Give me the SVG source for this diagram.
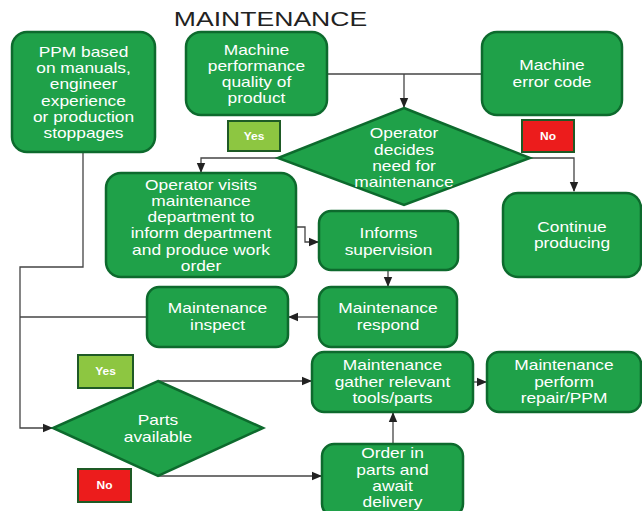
<svg xmlns="http://www.w3.org/2000/svg" width="642" height="511" viewBox="0 0 642 511">
<defs>
<marker id="ah" markerUnits="userSpaceOnUse" markerWidth="10" markerHeight="10" viewBox="0 0 10 10" refX="9" refY="5" orient="auto">
<path d="M0,0.8 L10,5 L0,9.2 Z" fill="#222"/>
</marker>
<style>
.box{fill:#1fa149;stroke:#0d6a2d;stroke-width:2.5}
.yes{fill:#8dc641;stroke:#1e5a25;stroke-width:2}
.no{fill:#ec1c1c;stroke:#1e5a25;stroke-width:2}
.t{font-family:"Liberation Sans",Arial,sans-serif;font-size:14px;fill:#fff;text-anchor:middle}
.lt{font-family:"Liberation Sans",Arial,sans-serif;font-size:10px;font-weight:bold;fill:#fff;text-anchor:middle}
.title{font-family:"Liberation Sans",Arial,sans-serif;font-size:20px;fill:#222;text-anchor:middle}
.c{fill:none;stroke:#444;stroke-width:1.3}
.ca{fill:none;stroke:#444;stroke-width:1.3;marker-end:url(#ah)}
</style>
</defs>
<rect width="642" height="511" fill="#fff"/>
<text class="title" transform="translate(270.5,0) scale(1.33,1)" x="0" y="26">MAINTENANCE</text>

<g id="connectors">
<path class="c" d="M327,74 H482"/>
<path class="ca" d="M404,74 V107"/>
<path class="ca" d="M278,158 H201 V172"/>
<path class="ca" d="M530,158 H574 V191"/>
<path class="ca" d="M296,227 H305 V242 H318"/>
<path class="ca" d="M388,270 V286"/>
<path class="ca" d="M319,317 H289"/>
<path class="c" d="M147,317 H20"/>
<path class="ca" d="M83,152 V267 H20 V428 H52"/>
<path class="ca" d="M158,381 H311"/>
<path class="ca" d="M158,476 H321"/>
<path class="ca" d="M393,444 V413"/>
<path class="ca" d="M473,382 H486"/>
</g>

<g id="ppm">
<rect class="box" x="12" y="32" width="143" height="120" rx="15"/>
<text class="t" transform="translate(83.5,0) scale(1.24,1)"><tspan x="0" y="57">PPM based</tspan><tspan x="0" y="73">on manuals,</tspan><tspan x="0" y="89.5">engineer</tspan><tspan x="0" y="106">experience</tspan><tspan x="0" y="122">or production</tspan><tspan x="0" y="138">stoppages</tspan></text>
</g>

<g id="machine-performance">
<rect class="box" x="186" y="32" width="141" height="83" rx="15"/>
<text class="t" transform="translate(256.5,0) scale(1.24,1)"><tspan x="0" y="55">Machine</tspan><tspan x="0" y="71">performance</tspan><tspan x="0" y="87">quality of</tspan><tspan x="0" y="103">product</tspan></text>
</g>

<g id="yes1">
<rect class="yes" x="228" y="121" width="52" height="30"/>
<text class="lt" transform="translate(254,0) scale(1.2,1)" x="0" y="140">Yes</text>
</g>

<g id="machine-error">
<rect class="box" x="482" y="32" width="140" height="83" rx="15"/>
<text class="t" transform="translate(552,0) scale(1.24,1)"><tspan x="0" y="70">Machine</tspan><tspan x="0" y="87">error code</tspan></text>
</g>

<g id="no1">
<rect class="no" x="522" y="120" width="52" height="32"/>
<text class="lt" transform="translate(548,0) scale(1.2,1)" x="0" y="140">No</text>
</g>

<g id="operator-decides">
<polygon class="box" points="404,108 530,158 404,205 278,158"/>
<text class="t" transform="translate(404,0) scale(1.24,1)"><tspan x="0" y="138">Operator</tspan><tspan x="0" y="155">decides</tspan><tspan x="0" y="171">need for</tspan><tspan x="0" y="187">maintenance</tspan></text>
</g>

<g id="operator-visits">
<rect class="box" x="106" y="173" width="190" height="104" rx="15"/>
<text class="t" transform="translate(201,0) scale(1.24,1)"><tspan x="0" y="190">Operator visits</tspan><tspan x="0" y="206">maintenance</tspan><tspan x="0" y="222">department to</tspan><tspan x="0" y="238">inform department</tspan><tspan x="0" y="255">and produce work</tspan><tspan x="0" y="271">order</tspan></text>
</g>

<g id="informs-supervision">
<rect class="box" x="319" y="211" width="139" height="59" rx="12"/>
<text class="t" transform="translate(388.5,0) scale(1.24,1)"><tspan x="0" y="238">Informs</tspan><tspan x="0" y="255">supervision</tspan></text>
</g>

<g id="continue-producing">
<rect class="box" x="503" y="193" width="138" height="84" rx="15"/>
<text class="t" transform="translate(572,0) scale(1.24,1)"><tspan x="0" y="232">Continue</tspan><tspan x="0" y="248">producing</tspan></text>
</g>

<g id="maintenance-respond">
<rect class="box" x="319" y="287" width="138" height="60" rx="12"/>
<text class="t" transform="translate(388,0) scale(1.24,1)"><tspan x="0" y="313">Maintenance</tspan><tspan x="0" y="330">respond</tspan></text>
</g>

<g id="maintenance-inspect">
<rect class="box" x="147" y="287" width="141" height="60" rx="12"/>
<text class="t" transform="translate(217.5,0) scale(1.24,1)"><tspan x="0" y="313">Maintenance</tspan><tspan x="0" y="330">inspect</tspan></text>
</g>

<g id="yes2">
<rect class="yes" x="78" y="355" width="55" height="33"/>
<text class="lt" transform="translate(105.5,0) scale(1.2,1)" x="0" y="375">Yes</text>
</g>

<g id="parts-available">
<polygon class="box" points="158,381 263,428 158,476 53,428"/>
<text class="t" transform="translate(158,0) scale(1.24,1)"><tspan x="0" y="425">Parts</tspan><tspan x="0" y="442">available</tspan></text>
</g>

<g id="no2">
<rect class="no" x="78" y="469" width="53" height="33"/>
<text class="lt" transform="translate(104.5,0) scale(1.2,1)" x="0" y="489">No</text>
</g>

<g id="gather">
<rect class="box" x="312" y="352" width="161" height="60" rx="12"/>
<text class="t" transform="translate(392.5,0) scale(1.24,1)"><tspan x="0" y="370">Maintenance</tspan><tspan x="0" y="387">gather relevant</tspan><tspan x="0" y="403">tools/parts</tspan></text>
</g>

<g id="perform">
<rect class="box" x="487" y="352" width="154" height="60" rx="12"/>
<text class="t" transform="translate(564,0) scale(1.24,1)"><tspan x="0" y="370">Maintenance</tspan><tspan x="0" y="387">perform</tspan><tspan x="0" y="403">repair/PPM</tspan></text>
</g>

<g id="order">
<rect class="box" x="322" y="444" width="141" height="72" rx="12"/>
<text class="t" transform="translate(392.5,0) scale(1.24,1)"><tspan x="0" y="458">Order in</tspan><tspan x="0" y="475">parts and</tspan><tspan x="0" y="491">await</tspan><tspan x="0" y="507">delivery</tspan></text>
</g>
</svg>
